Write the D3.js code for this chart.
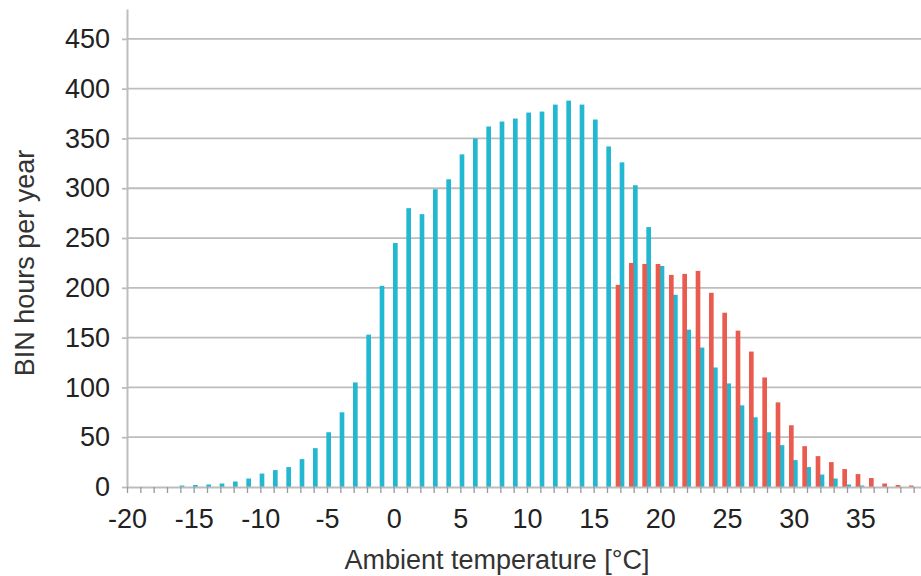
<!DOCTYPE html>
<html>
<head>
<meta charset="utf-8">
<script src="https://cdn.jsdelivr.net/npm/d3@7"></script>
<style>
  html, body { margin: 0; padding: 0; background: #fff; }
  svg { display: block; font-family: "Liberation Sans", Arial, sans-serif; }
</style>
</head>
<body>
<svg id="chart" width="921" height="576"></svg>
<script>
// ambient temperature bins [°C], one per degree
const temps = d3.range(-20, 40);

// cyan series, BIN hours per year (-20 .. 39)
const cyanHours = [
  0, 0, 0, 0, 1.5, 2, 2.5, 3.5, 5.5, 8.5,
  13.5, 17, 20, 28, 39, 55, 75, 105, 153, 202,
  245, 280, 274, 299, 309, 334, 350, 362, 367, 370,
  376, 377, 384, 388, 384, 369, 342, 326, 303, 261,
  222, 193, 158, 140, 120, 104, 82, 70, 55, 42,
  27, 20, 12.5, 8.5, 2.5, 1.5, 0, 0, 0, 0
];

// red series, BIN hours per year (-20 .. 39)
const redHours = [
  0, 0, 0, 0, 0, 0, 0, 0, 0, 0,
  0, 0, 0, 0, 0, 0, 0, 0, 0, 0,
  0, 0, 0, 0, 0, 0, 0, 0, 0, 0,
  0, 0, 0, 0, 0, 0, 203, 225, 224, 224,
  213, 214, 217, 195, 175, 157, 136, 110, 85, 62,
  41, 31, 25, 18, 13, 9, 3.5, 2, 1.5, 0
];

const yTicks = d3.range(0, 451, 50);
const xLabels = d3.range(-20, 36, 5);

const svg = d3.select("#chart");
const width = 921;

const x = d3.scaleLinear().domain([-20, 40]).range([127, 927]);
const y = d3.scaleLinear().domain([0, 480]).range([487, 9]);
const step = x(1) - x(0);

// two bars inside each one-degree bin
const inner = d3.scaleBand()
  .domain(["cyan", "red"])
  .range([-0.05 * step, step])
  .paddingInner(0.5);

const colors = { cyan: "#22b8d2", red: "#ea5b4f" };

// gridlines
svg.append("g")
  .selectAll("line")
  .data(yTicks.filter(d => d > 0))
  .enter()
  .append("line")
  .attr("x1", x(-20))
  .attr("x2", width)
  .attr("y1", d => y(d))
  .attr("y2", d => y(d))
  .attr("stroke", "#bdbdbd")
  .attr("stroke-width", 1.8);

// bars
const rows = temps.map((t, i) => ({ t, cyan: cyanHours[i], red: redHours[i] }));

["cyan", "red"].forEach(key => {
  svg.append("g")
    .selectAll("rect")
    .data(rows.filter(d => d[key] > 0))
    .enter()
    .append("rect")
    .attr("x", d => x(d.t) + inner(key))
    .attr("width", inner.bandwidth())
    .attr("y", d => y(d[key]))
    .attr("height", d => y(0) - y(d[key]))
    .attr("fill", colors[key]);
});

// y axis
const yAxis = svg.append("g")
  .attr("transform", `translate(${x(-20)},0)`)
  .call(d3.axisLeft(y).tickValues(yTicks).tickSize(5).tickSizeOuter(0).tickPadding(12));
yAxis.select(".domain").attr("stroke", "#bdbdbd").attr("stroke-width", 2);
yAxis.selectAll(".tick line").attr("stroke", "#bdbdbd").attr("stroke-width", 1.8);
yAxis.selectAll("text").attr("font-size", 27).attr("fill", "#222");

// x axis
const xAxis = svg.append("g")
  .attr("transform", `translate(0,${y(0)})`)
  .call(d3.axisBottom(x)
    .tickValues(temps)
    .tickSize(6)
    .tickSizeOuter(0)
    .tickPadding(16)
    .tickFormat(d => xLabels.includes(d) ? d : ""));
xAxis.select(".domain").attr("stroke", "#bdbdbd").attr("stroke-width", 2);
xAxis.selectAll(".tick line").attr("stroke", "#999").attr("stroke-width", 1.3);
xAxis.selectAll("text").attr("font-size", 27).attr("fill", "#222");

// axis titles
svg.append("text")
  .attr("x", 497)
  .attr("y", 569)
  .attr("text-anchor", "middle")
  .attr("font-size", 27)
  .attr("fill", "#333")
  .text("Ambient temperature [°C]");

svg.append("text")
  .attr("transform", "translate(34,263) rotate(-90)")
  .attr("text-anchor", "middle")
  .attr("font-size", 27)
  .attr("fill", "#333")
  .text("BIN hours per year");
</script>
</body>
</html>
